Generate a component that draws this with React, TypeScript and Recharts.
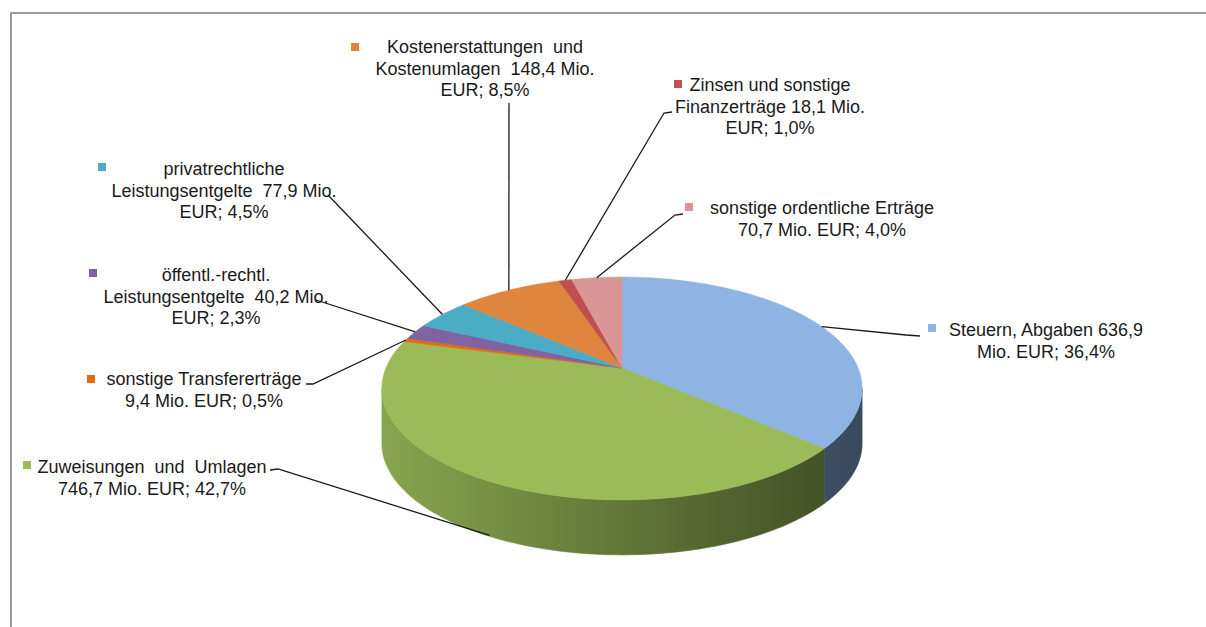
import { PieChart, Pie, Cell } from "recharts";

const categories = [
  "Steuern, Abgaben",
  "Zuweisungen und Umlagen",
  "sonstige Transfererträge",
  "öffentl.-rechtl. Leistungsentgelte",
  "privatrechtliche Leistungsentgelte",
  "Kostenerstattungen und Kostenumlagen",
  "Zinsen und sonstige Finanzerträge",
  "sonstige ordentliche Erträge",
];

const values = [636.9, 746.7, 9.4, 40.2, 77.9, 148.4, 18.1, 70.7];

const labelLines = [
  ["Steuern, Abgaben 636,9", "Mio. EUR; 36,4%"],
  ["Zuweisungen  und  Umlagen", "746,7 Mio. EUR; 42,7%"],
  ["sonstige Transfererträge", "9,4 Mio. EUR; 0,5%"],
  ["öffentl.-rechtl.", "Leistungsentgelte  40,2 Mio.", "EUR; 2,3%"],
  ["privatrechtliche", "Leistungsentgelte  77,9 Mio.", "EUR; 4,5%"],
  ["Kostenerstattungen  und", "Kostenumlagen  148,4 Mio.", "EUR; 8,5%"],
  ["Zinsen und sonstige", "Finanzerträge 18,1 Mio.", "EUR; 1,0%"],
  ["sonstige ordentliche Erträge", "70,7 Mio. EUR; 4,0%"],
];

const colors = [
  "#8EB4E3",
  "#9BBB59",
  "#E46C0A",
  "#8064A2",
  "#4BACC6",
  "#E0853D",
  "#C0504D",
  "#D99694",
];

const data = categories.map((name, i) => ({ name, value: values[i] }));

// label placement (text centre, first baseline, key square, leader start points)
const labelBoxes = [
  { x: 1046, y: 336, mx: 928, my: 324, lead: [[920, 336], [906, 335]], drop: false },
  { x: 152, y: 473, mx: 23, my: 461, lead: [[270, 470], [278, 469]], drop: true },
  { x: 204, y: 385, mx: 87, my: 375, lead: [[306, 384], [313, 384]], drop: false },
  { x: 216, y: 281, mx: 89, my: 269, lead: [[316, 300]], drop: false },
  { x: 224, y: 175, mx: 98, my: 163, lead: [[328, 195]], drop: false },
  { x: 485, y: 53, mx: 351, my: 43, lead: [[509, 103]], drop: false },
  { x: 770, y: 91, mx: 674, my: 80, lead: [[672, 112], [664, 113]], drop: false },
  { x: 822, y: 214, mx: 685, my: 203, lead: [[683, 214], [675, 215]], drop: false },
];

const K = -0.184; // perspective factor
const RY = 0.456; // vertical squash
const DEPTH = 55;
const VIS = -K;

function project(cx: number, cy: number, r: number, deg: number) {
  const t = (deg * Math.PI) / 180;
  const u = Math.cos(t);
  const v = -Math.sin(t);
  const w = 1 + K * v;
  return [cx + (r * u) / w, cy + (r * RY * v) / w];
}

function shade(hex: string, f: number) {
  const n = parseInt(hex.slice(1), 16);
  const r = Math.round(((n >> 16) & 255) * f);
  const g = Math.round(((n >> 8) & 255) * f);
  const b = Math.round((n & 255) * f);
  return `rgb(${r},${g},${b})`;
}

function arcPoints(cx: number, cy: number, r: number, a0: number, a1: number) {
  const steps = Math.max(2, Math.ceil(Math.abs(a1 - a0)));
  const pts: number[][] = [];
  for (let i = 0; i <= steps; i++) {
    pts.push(project(cx, cy, r, a0 + ((a1 - a0) * i) / steps));
  }
  return pts;
}

function Slice3D(props: any) {
  const { cx, cy, outerRadius, startAngle, endAngle, fill } = props;
  const hi0 = Math.max(startAngle, endAngle);
  const lo0 = Math.min(startAngle, endAngle);
  const alpha = (Math.asin(VIS) * 180) / Math.PI;
  const gid = `side-${String(fill).replace("#", "")}`;
  const walls: string[] = [];
  for (const k of [0, -360]) {
    const lo = Math.max(lo0, -180 + alpha + k);
    const hi = Math.min(hi0, -alpha + k);
    if (lo < hi) {
      const top = arcPoints(cx, cy, outerRadius, hi, lo);
      const bottom = top.map(([x, y]) => [x, y + DEPTH]).reverse();
      const all = [...top, ...bottom];
      walls.push("M" + all.map((p) => `${p[0].toFixed(2)},${p[1].toFixed(2)}`).join("L") + "Z");
    }
  }
  const face = arcPoints(cx, cy, outerRadius, startAngle, endAngle);
  const faceD =
    `M${cx},${cy}L` + face.map((p) => `${p[0].toFixed(2)},${p[1].toFixed(2)}`).join("L") + "Z";
  return (
    <g>
      <defs>
        <linearGradient
          id={gid}
          gradientUnits="userSpaceOnUse"
          x1={cx - outerRadius * 1.02}
          x2={cx + outerRadius * 1.02}
          y1={0}
          y2={0}
        >
          <stop offset="0" stopColor={shade(fill, 0.88)} />
          <stop offset="0.5" stopColor={shade(fill, 0.63)} />
          <stop offset="1" stopColor={shade(fill, 0.4)} />
        </linearGradient>
      </defs>
      {walls.map((d, i) => (
        <path key={i} d={d} fill={`url(#${gid})`} stroke={`url(#${gid})`} strokeWidth={0.6} />
      ))}
      <path d={faceD} fill={fill} stroke={fill} strokeWidth={0.6} />
    </g>
  );
}

function renderLabel(props: any) {
  const { cx, cy, outerRadius, midAngle, index } = props;
  const box = labelBoxes[index];
  const [px, py] = project(cx, cy, outerRadius, midAngle);
  const end = [px, py + (box.drop ? DEPTH * 0.98 : 0)];
  const pts = [...box.lead, end];
  return (
    <g key={`lbl-${index}`}>
      <polyline
        points={pts.map((p) => p.join(",")).join(" ")}
        fill="none"
        stroke="#1a1a1a"
        strokeWidth={1.3}
      />
      <rect x={box.mx} y={box.my} width={8} height={8} fill={colors[index]} />
      <text
        x={box.x}
        y={box.y}
        textAnchor="middle"
        fontFamily="'Liberation Sans', Arial, sans-serif"
        fontSize={18}
        fill="#1a1a1a"
        style={{ whiteSpace: "pre" }}
      >
        {labelLines[index].map((line, i) => (
          <tspan key={i} x={box.x} dy={i === 0 ? 0 : 21.5}>
            {line}
          </tspan>
        ))}
      </text>
    </g>
  );
}

export default function App() {
  return (
    <div
      style={{
        position: "absolute",
        left: 0,
        top: 0,
        width: 1206,
        height: 627,
        background: "#fff",
      }}
    >
      <div
        style={{
          position: "absolute",
          left: 10,
          top: 12,
          width: 1196,
          height: 615,
          borderTop: "2px solid #9a9a9a",
          borderLeft: "2px solid #9a9a9a",
        }}
      />
      <div style={{ position: "absolute", left: 0, top: 0 }}>
        <PieChart width={1206} height={627} margin={{ top: 0, right: 0, bottom: 0, left: 0 }}>
          <Pie
            data={data}
            dataKey="value"
            nameKey="name"
            cx={622}
            cy={368}
            outerRadius={236}
            startAngle={90}
            endAngle={-270}
            stroke="none"
            shape={Slice3D}
            label={renderLabel}
            labelLine={false}
            isAnimationActive={false}
          >
            {data.map((d, i) => (
              <Cell key={d.name} fill={colors[i]} />
            ))}
          </Pie>
        </PieChart>
      </div>
    </div>
  );
}
